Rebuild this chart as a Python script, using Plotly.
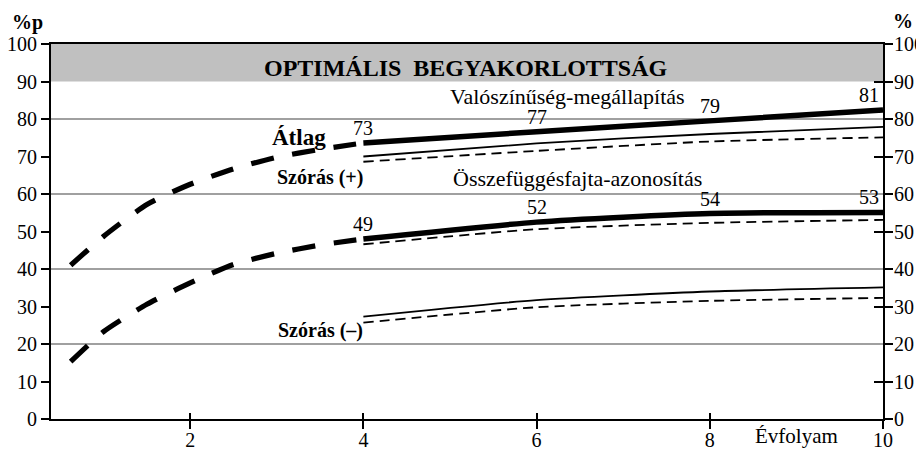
import plotly.graph_objects as go

# ---- data ----
grades = [4, 6, 8, 10]
prob_mean = [73.6, 76.6, 79.5, 82.4]
prob_solid = [70.0, 73.5, 76.0, 77.9]
prob_dash = [68.6, 71.5, 74.0, 75.1]
rel_mean = [48.0, 52.5, 54.8, 55.1]
rel_dash = [46.6, 50.6, 52.3, 53.1]
low_solid = [27.3, 31.7, 34.0, 35.1]
low_dash = [25.7, 29.8, 31.5, 32.3]
prob_labels = ["73", "77", "79", "81"]
rel_labels = ["49", "52", "54", "53"]

ext_x = [0.62, 1.0, 1.5, 2.0, 2.5, 3.0, 3.5, 4.0]
ext_upper = [41.0, 48.7, 57.2, 62.6, 66.7, 69.8, 71.9, 73.6]
ext_lower = [15.3, 23.3, 30.6, 36.3, 41.2, 44.2, 46.4, 48.0]

x_ticks = [2, 4, 6, 8, 10]
y_ticks = [0, 10, 20, 30, 40, 50, 60, 70, 80, 90, 100]
grid_vals = [20, 40, 60, 80]
cross_vals = [10, 30, 50, 70, 90]
band = [90, 100]
X_RANGE = [0.393, 10]
Y_RANGE = [0, 100]

FONT = "Liberation Serif"

fig = go.Figure()

def add_line(x, y, width, dash="solid", shape="spline"):
    fig.add_trace(go.Scatter(x=x, y=y, mode="lines",
                             line=dict(color="black", width=width, dash=dash, shape=shape, smoothing=0.6),
                             showlegend=False, hoverinfo="skip"))

add_line(ext_x, ext_upper, 5.2, "23px,19px")
add_line(ext_x, ext_lower, 5.2, "23px,19px")
add_line(grades, prob_solid, 1.8)
add_line(grades, prob_dash, 1.8, "10px,6px")
add_line(grades, prob_mean, 5.5)
add_line(grades, low_solid, 1.8)
add_line(grades, low_dash, 1.8, "10px,6px")
add_line(grades, rel_dash, 1.8, "10px,6px")
add_line(grades, rel_mean, 5.5)

for xa, ya in [("x2", "y"), ("x", "y2"), ("x", "y3"), ("x", "y4")]:
    fig.add_trace(go.Scatter(x=[None], y=[None], xaxis=xa, yaxis=ya,
                             showlegend=False, hoverinfo="skip"))

fig.add_shape(type="rect", xref="paper", x0=0, x1=1, yref="y", y0=band[0], y1=band[1],
              fillcolor="#c0c0c0", line=dict(width=0), layer="below")

def f(size, fam=FONT):
    return dict(size=size, family=fam, color="black")

# page-pixel -> paper helpers (plot area spans page x 51..882.7, y 44..419)
def px(x):
    return (x - 51) / 831.7

def py(y):
    return (419 - y) / 375

ann = []
for i, (g, v, t) in enumerate(zip(grades, prob_mean, prob_labels)):
    last = i == len(grades) - 1
    ann.append(dict(x=g, y=v, text=t, showarrow=False, yshift=15, xshift=-2 if last else 0,
                    xanchor="right" if last else "center", yanchor="middle", font=f(20)))
for i, (g, v, t) in enumerate(zip(grades, rel_mean, rel_labels)):
    last = i == len(grades) - 1
    ann.append(dict(x=g, y=v, text=t, showarrow=False, yshift=15, xshift=-2 if last else 0,
                    xanchor="right" if last else "center", yanchor="middle", font=f(20)))

def note(x, y, text, size, xref="x", yref="y", yshift=0):
    return dict(xref=xref, yref=yref, x=x, y=y, text=text, showarrow=False, xanchor="center",
                yanchor="middle", yshift=yshift, font=f(size))

ann += [
    note(px(465.5), 95, "<b>OPTIMÁLIS  BEGYAKORLOTTSÁG</b>", 24, xref="paper", yshift=-5),
    note(3.26, 75.2, "<b>Átlag</b>", 23),
    note(3.5, 64.4, "<b>Szórás (+)</b>", 20),
    note(3.5, 23.5, "<b>Szórás (–)</b>", 20),
    note(px(567), 86.0, "Valószínűség-megállapítás", 22, xref="paper"),
    note(px(577), 64.1, "Összefüggésfajta-azonosítás", 22, xref="paper"),
    note(px(796.5), py(436), "Évfolyam", 21, xref="paper", yref="paper"),
    note(px(27.5), py(22), "<b>%p</b>", 20, xref="paper", yref="paper"),
    note(px(903), py(21), "<b>%</b>", 20, xref="paper", yref="paper"),
]

tickfont = f(20)
fig.update_layout(
    template="none",
    width=924, height=450, autosize=False,
    margin=dict(l=43, r=49.3, t=36, b=39, autoexpand=False),
    paper_bgcolor="white", plot_bgcolor="white",
    font=dict(family=FONT, color="black"),
    annotations=ann,
    xaxis=dict(range=X_RANGE, tickvals=x_ticks, ticks="outside", ticklen=8, tickwidth=2, tickcolor="black",
               showline=True, linewidth=2, linecolor="black", mirror=True, showgrid=False, zeroline=False,
               tickfont=tickfont, automargin=False, ticklabelstandoff=-6),
    xaxis2=dict(range=X_RANGE, overlaying="x", anchor="y", side="bottom", tickvals=x_ticks[:-1], ticks="inside",
                ticklen=6, tickwidth=2, tickcolor="black", showticklabels=False, showline=False,
                showgrid=False, zeroline=False, automargin=False),
    yaxis=dict(range=Y_RANGE, tickvals=y_ticks, ticks="outside", ticklen=8, tickwidth=2, tickcolor="black",
               showline=True, linewidth=2, linecolor="black", showgrid=False, zeroline=False, tickfont=tickfont,
               automargin=False),
    yaxis2=dict(range=Y_RANGE, overlaying="y", side="right", anchor="x", tickvals=y_ticks, ticks="outside",
                ticklen=8, tickwidth=2, tickcolor="black", showline=True, linewidth=2, linecolor="black",
                showgrid=False, zeroline=False, tickfont=tickfont, automargin=False, ticklabelstandoff=-3),
    yaxis3=dict(range=Y_RANGE, overlaying="y", side="right", anchor="x", tickvals=cross_vals, ticks="inside",
                ticklen=9, tickwidth=2, tickcolor="black", showticklabels=False, showline=False,
                showgrid=False, zeroline=False, automargin=False),
    yaxis4=dict(range=Y_RANGE, overlaying="y", side="left", anchor="x", tickvals=grid_vals, ticks="",
                showticklabels=False, showline=False, showgrid=True, gridcolor="#a0a0a0", gridwidth=1.6,
                zeroline=False, automargin=False),
)

fig.write_html("out.html")
